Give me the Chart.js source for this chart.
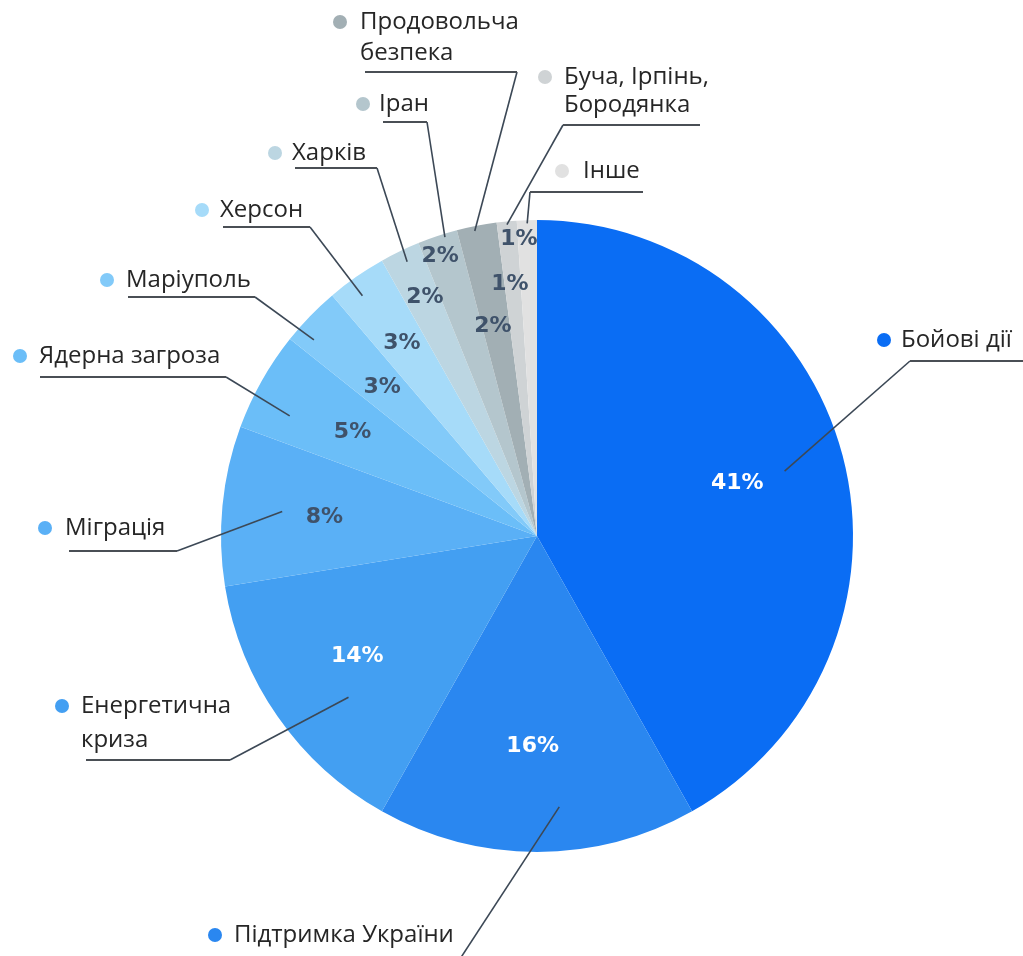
<!DOCTYPE html>
<html>
<head>
<meta charset="utf-8">
<script src="https://cdn.jsdelivr.net/npm/chart.js@4"></script>
<style>
html,body{margin:0;padding:0;background:#fff;}
#wrap{width:1023px;height:956px;position:relative;}
</style>
</head>
<body>
<div id="wrap"><canvas id="c" width="1023" height="956"></canvas></div>
<script>
// ---- data ----
const categories = ['Бойові дії','Підтримка України','Енергетична криза','Міграція','Ядерна загроза','Маріуполь','Херсон','Харків','Іран','Продовольча безпека','Буча, Ірпінь, Бородянка','Інше'];
const values = [41,16,14,8,5,3,3,2,2,2,1,1];
const labelLines = [['Бойові дії'],['Підтримка України'],['Енергетична','криза'],['Міграція'],['Ядерна загроза'],['Маріуполь'],['Херсон'],['Харків'],['Іран'],['Продовольча','безпека'],['Буча, Ірпінь,','Бородянка'],['Інше']];

// ---- style ----
const colors = ['#0a6df4','#2a87f0','#439ff2','#5ab0f6','#6bbef8','#82caf9','#a6dbf9','#bcd6e2','#b4c6cd','#a2afb4','#cfd3d5','#e1e1e1'];
const whiteText = [true,true,true,false,false,false,false,false,false,false,false,false];
// percentage label placement: [fraction of slice angle, fraction of radius]
const pctPos = [[.5,.655],[.52,.665],[.52,.685],[.48,.675],[.5,.67],[.48,.68],[.49,.745],[.58,.835],[.40,.937],[.38,.677],[.33,.80],[.05,.94]];
// leader end inside slice: [fraction of slice angle, fraction of radius]
const leadPos = [[.5,.81],[.42,.86],[.39,.785],[.5,.81],[.31,.87],[.25,.94],[.40,.94],[.55,.96],[.67,.99],[.43,.985],[.5,.99],[.51,.99]];
// outside label layout: dot x,y ; text x ; line gap ; underline y, x1, x2 ; connect x
const outLayout = [
  {dx:884,dy:340,tx:901,gap:0, uy:361,u1:910,u2:1023,cx:910},
  {dx:215,dy:935,tx:234,gap:0, uy:962,u1:233,u2:458,cx:458},
  {dx:62, dy:706,tx:81, gap:34,uy:760,u1:86, u2:230,cx:230},
  {dx:45, dy:528,tx:65, gap:0, uy:551,u1:69, u2:177,cx:177},
  {dx:20, dy:356,tx:39, gap:0, uy:377,u1:40, u2:226,cx:226},
  {dx:107,dy:280,tx:126,gap:0, uy:297,u1:128,u2:255,cx:255},
  {dx:202,dy:210,tx:220,gap:0, uy:227,u1:223,u2:310,cx:310},
  {dx:275,dy:153,tx:292,gap:0, uy:168,u1:295,u2:377,cx:377},
  {dx:363,dy:104,tx:379,gap:0, uy:122,u1:383,u2:427,cx:427},
  {dx:340,dy:22, tx:360,gap:31,uy:72, u1:365,u2:517,cx:517},
  {dx:545,dy:77, tx:564,gap:28,uy:125,u1:563,u2:700,cx:563},
  {dx:562,dy:171,tx:583,gap:0, uy:192,u1:530,u2:643,cx:530}
];

function pointOn(arc, t, rf){
  const a = arc.startAngle + (arc.endAngle - arc.startAngle) * t;
  const r = arc.outerRadius * rf;
  return [arc.x + Math.cos(a) * r, arc.y + Math.sin(a) * r];
}

const labelsPlugin = {
  id:'labelsPlugin',
  afterDatasetsDraw(chart){
    const ctx = chart.ctx;
    const meta = chart.getDatasetMeta(0);
    ctx.save();
    // percentages
    ctx.font = 'bold 22px "DejaVu Sans", sans-serif';
    ctx.textAlign = 'center';
    ctx.textBaseline = 'middle';
    meta.data.forEach((arc, i) => {
      const p = pointOn(arc, pctPos[i][0], pctPos[i][1]);
      ctx.fillStyle = whiteText[i] ? '#ffffff' : '#3f526a';
      ctx.fillText(values[i] + '%', p[0], p[1]);
    });
    // leaders, underlines, dots, texts
    meta.data.forEach((arc, i) => {
      const L = outLayout[i];
      const p = pointOn(arc, leadPos[i][0], leadPos[i][1]);
      ctx.strokeStyle = '#3c4856';
      ctx.lineWidth = 1.6;
      ctx.beginPath();
      ctx.moveTo(p[0], p[1]);
      ctx.lineTo(L.cx, L.uy);
      ctx.stroke();
      ctx.strokeStyle = '#4a4f55';
      ctx.lineWidth = 2;
      ctx.beginPath();
      ctx.moveTo(L.u1, L.uy);
      ctx.lineTo(L.u2, L.uy);
      ctx.stroke();
      ctx.fillStyle = colors[i];
      ctx.beginPath();
      ctx.arc(L.dx, L.dy, 7, 0, Math.PI * 2);
      ctx.fill();
      ctx.fillStyle = '#262626';
      ctx.font = '24px "Open Sans", sans-serif';
      ctx.textAlign = 'left';
      ctx.textBaseline = 'middle';
      labelLines[i].forEach((t, k) => ctx.fillText(t, L.tx, L.dy + k * L.gap));
    });
    ctx.restore();
  }
};

new Chart(document.getElementById('c'), {
  type:'pie',
  data:{
    labels:categories,
    datasets:[{data:values, backgroundColor:colors, borderWidth:0}]
  },
  options:{
    responsive:false,
    animation:false,
    devicePixelRatio:1,
    layout:{padding:{left:221,top:220,right:170,bottom:104}},
    plugins:{legend:{display:false}, tooltip:{enabled:false}}
  },
  plugins:[labelsPlugin]
});
</script>
</body>
</html>
